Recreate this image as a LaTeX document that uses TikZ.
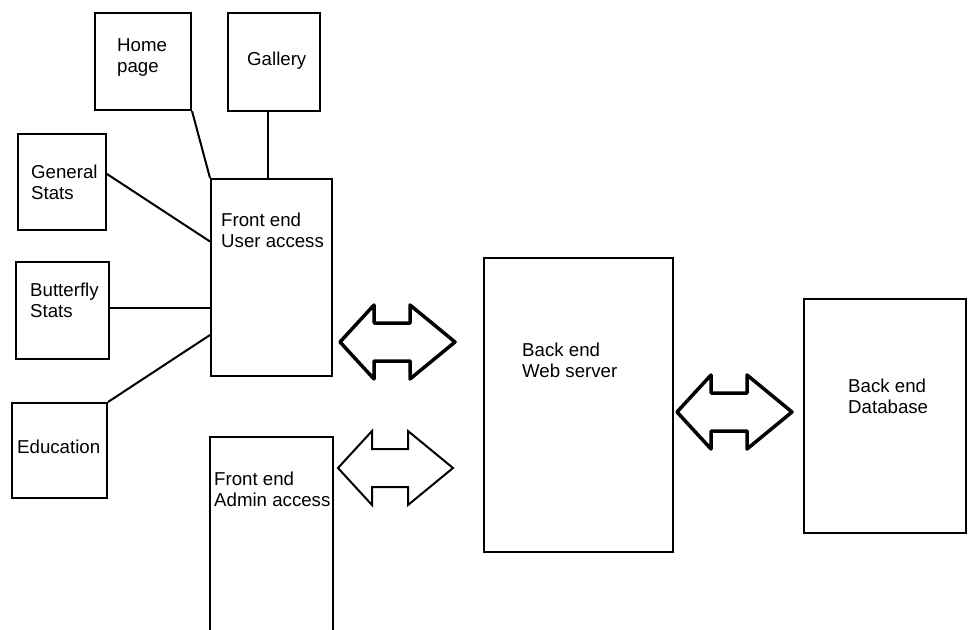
\documentclass[tikz,border=0pt]{standalone}
\usepackage{fontspec}
\setmainfont{Liberation Sans}
\usetikzlibrary{positioning}

\tikzset{
    block/.style={draw, line width=2pt, inner sep=0pt},
    txt/.style={anchor=north west, inner sep=0pt, align=left, font=\fontsize{18.67}{21}\selectfont},
    link/.style={line width=2pt},
    twowaybig/.style={line width=3.5pt, line join=round},
    twowaythin/.style={line width=2pt, line join=miter}
}

% block arrow pointing both ways, #1 = left tip x, #2 = tip y
\newcommand{\twoway}[3]{%
    \draw[#3] (#1,#2) -- ++(34,-37) -- ++(0,18) -- ++(36,0) -- ++(0,-18)
        -- ++(45,37) -- ++(-45,37) -- ++(0,-18) -- ++(-36,0) -- ++(0,18) -- cycle;
}

\begin{document}
\begin{tikzpicture}[x=1pt, y=-1pt]
    \useasboundingbox (0,0) rectangle (968,629);
    \fill[white] (0,0) rectangle (968,629);

    % front end boxes
    \node[block, minimum width=96pt, minimum height=97pt] (home) at (143,61.5) {};
    \node[block, minimum width=92pt, minimum height=98pt] (gallery) at (274,62) {};
    \node[block, minimum width=88pt, minimum height=96pt] (general) at (62,182) {};
    \node[block, minimum width=93pt, minimum height=97pt] (butterfly) at (62.5,310.5) {};
    \node[block, minimum width=95pt, minimum height=95pt] (education) at (59.5,450.5) {};
    \node[block, minimum width=121pt, minimum height=197pt] (user) at (271.5,277.5) {};
    \node[block, minimum width=123pt, minimum height=205pt] (admin) at (271.5,539.5) {};

    % back end boxes
    \node[block, minimum width=189pt, minimum height=294pt] (web) at (578.5,405) {};
    \node[block, minimum width=162pt, minimum height=234pt] (db) at (885,416) {};

    % texts
    \node[txt] at (117,38) {Home\\page};
    \node[txt] at (247,52) {Gallery};
    \node[txt] at (31,165) {General\\Stats};
    \node[txt] at (30,283) {Butterfly\\Stats};
    \node[txt] at (17,440) {Education};
    \node[txt] at (221,213) {Front end\\User access};
    \node[txt] at (214,472) {Front end\\Admin access};
    \node[txt] at (522,343) {Back end\\Web server};
    \node[txt] at (848,379) {Back end\\Database};

    % links to the user front end
    \draw[link] (home.south east) -- (user.north west);
    \draw[link] ([xshift=-6pt]gallery.south) -- ([xshift=-6pt]gallery.south |- user.north);
    \draw[link] ([yshift=8pt]general.east) -- ([yshift=36pt]user.west);
    \draw[link] ([yshift=3pt]butterfly.east) -- ([yshift=-30pt]user.west);
    \draw[link] (education.north east) -- ([yshift=42pt]user.south west);

    % arrows between front end and back end
    \twoway{340}{342}{twowaybig}
    \twoway{338}{468}{twowaythin}
    \twoway{677}{412}{twowaybig}
\end{tikzpicture}
\end{document}
